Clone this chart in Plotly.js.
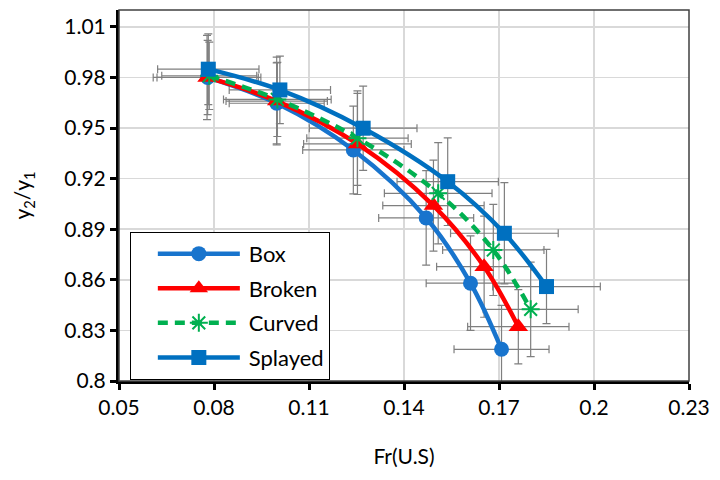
<!DOCTYPE html>
<html>
<head>
<meta charset="utf-8">
<script src="https://cdn.plot.ly/plotly-3.0.1.min.js"></script>
<style>
  html, body { margin: 0; padding: 0; background: #fff; }
  #chart { width: 720px; height: 480px; }
</style>
</head>
<body>
<div id="chart"></div>
<script>
// valores (Fr aguas arriba vs y2/y1)
const seriesNames = ['Box', 'Broken', 'Curved', 'Splayed'];

const boxX = [0.078, 0.0998, 0.124, 0.147, 0.161, 0.1708];
const boxY = [0.980, 0.9647, 0.937, 0.8967, 0.858, 0.8188];
const boxEx = [0.016, 0.015, 0.016, 0.015, 0.014, 0.015];
const boxEy = [0.022, 0.024, 0.026, 0.028, 0.028, 0.026];

const brokenX = [0.0778, 0.0998, 0.1253, 0.1493, 0.1653, 0.1761];
const brokenY = [0.980, 0.966, 0.9406, 0.904, 0.8678, 0.8322];
const brokenEx = [0.017, 0.016, 0.017, 0.016, 0.015, 0.016];
const brokenEy = [0.025, 0.026, 0.030, 0.027, 0.030, 0.022];

const curvedX = [0.0785, 0.1, 0.1253, 0.1508, 0.1682, 0.180];
const curvedY = [0.981, 0.967, 0.944, 0.9113, 0.8777, 0.8425];
const curvedEx = [0.015, 0.017, 0.016, 0.017, 0.016, 0.015];
const curvedEy = [0.020, 0.022, 0.028, 0.030, 0.027, 0.028];

const splayedX = [0.0782, 0.1008, 0.1271, 0.1538, 0.1717, 0.185];
const splayedY = [0.9849, 0.9726, 0.9499, 0.9182, 0.8876, 0.856];
const splayedEx = [0.016, 0.016, 0.017, 0.016, 0.017, 0.017];
const splayedEy = [0.021, 0.020, 0.025, 0.026, 0.030, 0.022];

const xTicks = [0.05, 0.08, 0.11, 0.14, 0.17, 0.2, 0.23];
const yTicks = [0.8, 0.83, 0.86, 0.89, 0.92, 0.95, 0.98, 1.01];

const FONT = 'Lato, "Open Sans", sans-serif';
const errColor = '#7f7f7f';

const series = [
  { x: boxX, y: boxY, ex: boxEx, ey: boxEy, color: '#1874CD', symbol: 'circle', size: 15, dash: 'solid' },
  { x: brokenX, y: brokenY, ex: brokenEx, ey: brokenEy, color: '#FF0000', symbol: 'triangle-up', size: 17, dash: 'solid' },
  { x: curvedX, y: curvedY, ex: curvedEx, ey: curvedEy, color: '#00B050', symbol: 'asterisk-open', size: 15, dash: '10px,7px' },
  { x: splayedX, y: splayedY, ex: splayedEx, ey: splayedEy, color: '#0070C0', symbol: 'square', size: 15, dash: 'solid' }
];

const traces = [];

// barras de error primero, para que queden debajo de las curvas
series.forEach((s, i) => {
  traces.push({
    x: s.x,
    y: s.y,
    type: 'scatter',
    mode: 'markers',
    marker: { opacity: 0, size: 2 },
    error_x: { type: 'data', array: s.ex, color: errColor, thickness: 1.2, width: 4 },
    error_y: { type: 'data', array: s.ey, color: errColor, thickness: 1.2, width: 4 },
    showlegend: false,
    hoverinfo: 'skip'
  });
});

series.forEach((s, i) => {
  traces.push({
    x: s.x,
    y: s.y,
    type: 'scatter',
    mode: 'lines+markers',
    name: seriesNames[i],
    legendgroup: 'g' + i,
    line: { color: s.color, width: 4.5, shape: 'spline', dash: s.dash },
    marker: {
      color: s.color,
      size: s.size,
      symbol: s.symbol,
      line: { color: s.color, width: s.symbol === 'asterisk-open' ? 2 : 0 }
    }
  });
});

const layout = {
  width: 720,
  height: 480,
  paper_bgcolor: '#ffffff',
  plot_bgcolor: '#ffffff',
  margin: { l: 119, r: 31, t: 10, b: 99 },
  font: { family: FONT, color: '#000000', size: 21 },
  showlegend: true,
  legend: {
    x: 0.019,
    y: 0.402,
    xanchor: 'left',
    yanchor: 'top',
    bgcolor: '#ffffff',
    bordercolor: '#000000',
    borderwidth: 1,
    itemwidth: 108,
    tracegroupgap: 3,
    font: { family: FONT, size: 22, color: '#000000' }
  },
  xaxis: {
    range: [0.05, 0.23],
    tickvals: xTicks,
    ticktext: xTicks.map(v => String(v)),
    showgrid: true,
    gridcolor: '#d9d9d9',
    gridwidth: 1.5,
    zeroline: false,
    showline: true,
    linecolor: '#000000',
    linewidth: 3,
    ticks: 'outside',
    ticklen: 6,
    tickwidth: 3,
    tickcolor: '#000000',
    tickfont: { family: FONT, size: 21 },
    title: { text: 'Fr(U.S)', font: { family: FONT, size: 21 }, standoff: 32 }
  },
  yaxis: {
    range: [0.8, 1.02],
    tickvals: yTicks,
    ticktext: yTicks.map(v => String(v)),
    showgrid: true,
    gridcolor: '#d9d9d9',
    gridwidth: 1.5,
    zeroline: false,
    showline: true,
    linecolor: '#000000',
    linewidth: 3,
    ticks: 'outside',
    ticklen: 6,
    tickwidth: 3,
    tickcolor: '#000000',
    tickfont: { family: FONT, size: 21 },
    title: { text: 'y<sub>2</sub>/y<sub>1</sub>', font: { family: FONT, size: 21 }, standoff: 28 }
  },
  shapes: [{
    type: 'rect', xref: 'paper', yref: 'paper',
    x0: 0, x1: 1, y0: 0, y1: 1,
    line: { color: '#404040', width: 1.5 }
  }]
};

Plotly.newPlot('chart', traces, layout, { displayModeBar: false, staticPlot: true }).then(gd => {
  // lineas de leyenda mas largas, como en Excel
  gd.querySelectorAll('.legend .legendlines path').forEach(p => {
    p.setAttribute('d', 'M27,0h82');
  });
  gd.querySelectorAll('.legend .legendpoints path.scatterpts').forEach(p => {
    p.setAttribute('transform', 'translate(68,0)');
  });
});
</script>
</body>
</html>
